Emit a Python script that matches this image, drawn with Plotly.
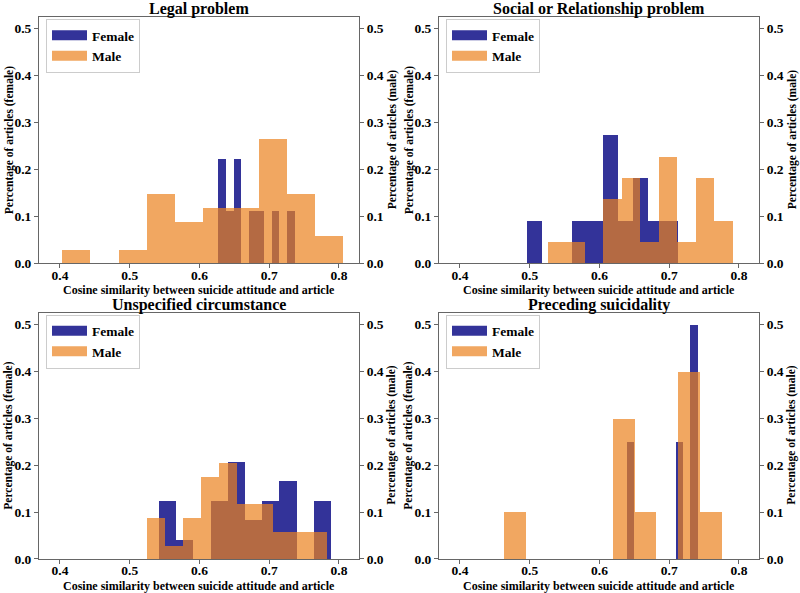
import plotly.graph_objects as go

# ---------------- data ----------------
titles = ["Legal problem", "Social or Relationship problem",
          "Unspecified circumstance", "Preceding suicidality"]

female_start = [0.6270, 0.4956, 0.5420, 0.6392]
female_width = [0.01094, 0.02175, 0.02465, 0.01014]
female_legal = [0.2222, 0.1111, 0.2222, 0.0, 0.1111, 0.1111, 0.0, 0.1111, 0.0, 0.1111]
female_social = [0.0909, 0.0, 0.0, 0.0909, 0.0909, 0.2727, 0.0909, 0.1818, 0.0909, 0.0909]
female_unspec = [0.125, 0.0417, 0.0, 0.125, 0.2083, 0.0833, 0.125, 0.1667, 0.0, 0.125]
female_preced = [0.25, 0.0, 0.0, 0.0, 0.0, 0.0, 0.0, 0.25, 0.0, 0.5]

male_start = [0.4033, 0.5257, 0.5243, 0.4631]
male_width = [0.04029, 0.02653, 0.0258, 0.03121]
male_legal = [0.0294, 0.0, 0.0294, 0.1471, 0.0882, 0.1176, 0.1176, 0.2647, 0.1471, 0.0588]
male_social = [0.0455, 0.0455, 0.0, 0.1364, 0.1818, 0.0455, 0.2273, 0.0455, 0.1818, 0.0909]
male_unspec = [0.0882, 0.0294, 0.0882, 0.1765, 0.2059, 0.1176, 0.1176, 0.0588, 0.0588, 0.0588]
male_preced = [0.1, 0.0, 0.0, 0.0, 0.0, 0.3, 0.1, 0.0, 0.4, 0.1]

female_heights = [female_legal, female_social, female_unspec, female_preced]
male_heights = [male_legal, male_social, male_unspec, male_preced]

x_ticks = [0.4, 0.5, 0.6, 0.7, 0.8]
y_ticks = [0.0, 0.1, 0.2, 0.3, 0.4, 0.5]
x_range = [0.3699, 0.8287]
y_range = [0.0, 0.525]

x_label = "Cosine similarity between suicide attitude and article"
y_label_f = "Percentage of articles (female)"
y_label_m = "Percentage of articles (male)"

# ---------------- styling ----------------
W, H = 800, 593          # design grid (reference pixels)
PAGE_H = 602             # page height that the viewer maps onto 593 px
FONT = "Liberation Serif"
FEMALE_COL = "rgba(0,0,128,0.8)"
MALE_COL = "rgba(235,130,30,0.7)"
AX_COL = "#666666"

# pixel boxes of the axes in the reference: (left, right, top, bottom)
boxes = [(39, 359, 17, 263), (439, 759, 17, 263),
         (39, 359, 312, 558), (439, 759, 312, 558)]

fig = go.Figure()
layout = dict(width=W, height=PAGE_H, margin=dict(l=0, r=0, t=0, b=0),
              paper_bgcolor="white", plot_bgcolor="white",
              barmode="overlay", bargap=0, annotations=[])


def centers(start, width, n):
    return [start + width * (i + 0.5) for i in range(n)]


def bold(vals):
    return [f"<b>{v:.1f}</b>" for v in vals]


for k in range(4):
    L, R, T, B = boxes[k]
    xd = [L / W, R / W]
    yd = [1 - B / H, 1 - T / H]
    xa = "x" if k == 0 else f"x{k + 1}"
    ya_f = "y" if k == 0 else f"y{2 * k + 1}"
    ya_m = f"y{2 * k + 2}"
    leg = "legend" if k == 0 else f"legend{k + 1}"

    fh = female_heights[k]
    mh = male_heights[k]
    fig.add_trace(go.Bar(x=centers(female_start[k], female_width[k], len(fh)), y=fh,
                         width=female_width[k], marker=dict(color=FEMALE_COL, line=dict(width=0)),
                         name="Female", xaxis=xa, yaxis=ya_f, showlegend=False))
    fig.add_trace(go.Bar(x=centers(male_start[k], male_width[k], len(mh)), y=mh,
                         width=male_width[k], marker=dict(color=MALE_COL, line=dict(width=0)),
                         name="Male", xaxis=xa, yaxis=ya_m, showlegend=False))
    # legend entries drawn as wide patches
    fig.add_trace(go.Scatter(x=[None], y=[None], mode="lines", name="Female",
                             line=dict(color=FEMALE_COL, width=11), xaxis=xa, yaxis=ya_f,
                             legend=leg, showlegend=True, hoverinfo="skip"))
    fig.add_trace(go.Scatter(x=[None], y=[None], mode="lines", name="Male",
                             line=dict(color=MALE_COL, width=11), xaxis=xa, yaxis=ya_m,
                             legend=leg, showlegend=True, hoverinfo="skip"))

    tickfont = dict(family=FONT, size=13.5, color="black")
    xkey = "xaxis" if k == 0 else f"xaxis{k + 1}"
    yfkey = "yaxis" if k == 0 else f"yaxis{2 * k + 1}"
    ymkey = f"yaxis{2 * k + 2}"
    layout[xkey] = dict(domain=xd, anchor=ya_f, range=x_range, tickvals=x_ticks,
                        ticktext=bold(x_ticks), ticks="outside", ticklen=4,
                        ticklabelstandoff=-5,
                        tickcolor=AX_COL, showline=True, linecolor=AX_COL, linewidth=1,
                        mirror=True, showgrid=False, zeroline=False, tickfont=tickfont)
    layout[yfkey] = dict(domain=yd, anchor=xa, range=y_range, tickvals=y_ticks,
                         ticktext=bold(y_ticks), ticks="outside", ticklen=4,
                         tickcolor=AX_COL, showline=True, linecolor=AX_COL, linewidth=1,
                         mirror=True, showgrid=False, zeroline=False, tickfont=tickfont)
    layout[ymkey] = dict(domain=yd, anchor=xa, overlaying=ya_f, side="right", range=y_range,
                         tickvals=y_ticks, ticktext=bold(y_ticks),
                         ticks="outside", ticklen=4, tickcolor=AX_COL, showline=True,
                         linecolor=AX_COL, linewidth=1, showgrid=False, zeroline=False,
                         tickfont=tickfont)
    layout[leg] = dict(x=(L + 7) / W, y=1 - (T + 2) / H, xanchor="left", yanchor="top",
                       bgcolor="rgba(255,255,255,0.8)", bordercolor="#cccccc", borderwidth=1,
                       font=dict(family=FONT, size=13.5, color="black", weight="bold"),
                       itemwidth=35, tracegroupgap=2)

    cx = (L + R) / 2 / W
    layout["annotations"].append(dict(
        text=f"<b>{titles[k]}</b>", x=cx, y=1 - (T - 8) / H, xref="paper", yref="paper",
        xanchor="center", yanchor="middle", showarrow=False,
        font=dict(family=FONT, size=16, color="black")))
    layout["annotations"].append(dict(
        text=f"<b>{x_label}</b>", x=cx, y=1 - (B + 27) / H, xref="paper", yref="paper",
        xanchor="center", yanchor="middle", showarrow=False,
        font=dict(family=FONT, size=12, color="black")))
    cy = 1 - (T + B) / 2 / H
    layout["annotations"].append(dict(
        text=f"<b>{y_label_f}</b>", x=(L - 30) / W, y=cy, xref="paper", yref="paper",
        xanchor="center", yanchor="middle", textangle=-90, showarrow=False,
        font=dict(family=FONT, size=11.5, color="black")))
    layout["annotations"].append(dict(
        text=f"<b>{y_label_m}</b>", x=(R + 33) / W, y=cy, xref="paper", yref="paper",
        xanchor="center", yanchor="middle", textangle=-90, showarrow=False,
        font=dict(family=FONT, size=11.5, color="black")))

fig.update_layout(**layout)
fig.write_html("out.html", config={"displayModeBar": False},
               post_script="document.body.style.margin='0';document.body.style.overflow='hidden';")
